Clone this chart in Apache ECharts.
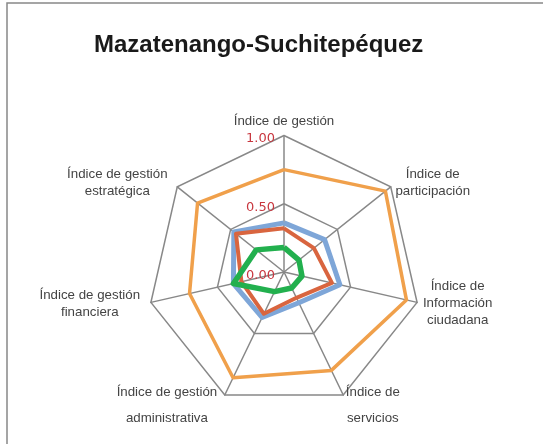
<!DOCTYPE html>
<html>
<head>
<meta charset="utf-8">
<script src="https://cdn.jsdelivr.net/npm/echarts@6/dist/echarts.min.js"></script>
<style>
html,body{margin:0;padding:0;background:#fff;}
#chart{width:543px;height:444px;}
</style>
</head>
<body>
<div id="chart"></div>
<script>
// Indicators, clockwise from the top ('\n\n' marks a wide line gap)
const indicatorNames = [
  'Índice de gestión',
  'Índice de\nparticipación',
  'Índice de\nInformación\nciudadana',
  'Índice de\n\nservicios',
  'Índice de gestión\n\nadministrativa',
  'Índice de gestión\nfinanciera',
  'Índice de gestión\nestratégica'
];
const axisTicks = [0, 0.5, 1];
const seriesOrange = [0.75, 0.95, 0.92, 0.80, 0.86, 0.71, 0.81];
const seriesBlue   = [0.36, 0.38, 0.42, 0.25, 0.37, 0.38, 0.47];
const seriesRed    = [0.32, 0.28, 0.36, 0.21, 0.34, 0.32, 0.45];
const seriesGreen  = [0.18, 0.14, 0.135, 0.13, 0.16, 0.38, 0.26];

// ECharts lays radar indicators counter-clockwise; reorder to get clockwise
const order = [0, 6, 5, 4, 3, 2, 1];
const reorder = arr => order.map(i => arr[i]);
const leftSide = new Set([4, 5, 6]);

const indicators = order.map((i, k) => {
  const o = { name: indicatorNames[i], min: axisTicks[0], max: axisTicks[axisTicks.length - 1] };
  if (k === 0) {
    o.axisLabel = {
      show: true, color: '#C8373F', fontSize: 13, fontFamily: 'DejaVu Sans',
      margin: 9, verticalAlign: 'top', lineHeight: 7, formatter: v => Number(v).toFixed(2)
    };
  }
  return o;
});

function nameFormatter(name) {
  const idx = indicatorNames.indexOf(name);
  const L = leftSide.has(idx) ? 'l' : 'c';
  if (name.indexOf('\n\n') >= 0) {
    const parts = name.split('\n\n');
    return '{' + L + 'g|' + parts[0] + '}\n{' + L + '|' + parts[1] + '}';
  }
  return name.split('\n').map(s => '{' + L + '|' + s + '}').join('\n');
}

const baseText = { color: '#444', fontSize: 13.3, fontFamily: 'Liberation Sans', align: 'center', lineHeight: 17 };

const chart = echarts.init(document.getElementById('chart'), null, { renderer: 'canvas' });
chart.setOption({
  animation: false,
  backgroundColor: '#fff',
  title: {
    text: 'Mazatenango-Suchitepéquez',
    left: 89, top: 28,
    textStyle: { fontFamily: 'Liberation Sans', fontWeight: 'bold', fontSize: 24, color: '#1a1a1a' }
  },
  graphic: [{
    type: 'rect', shape: { x: 7, y: 3, width: 560, height: 460 },
    style: { fill: 'none', stroke: '#888', lineWidth: 1.5 }, silent: true
  }],
  radar: {
    center: [284, 272],
    radius: 136.5,
    startAngle: 90,
    splitNumber: axisTicks.length - 1,
    shape: 'polygon',
    nameGap: 6,
    axisName: {
      color: '#444', fontSize: 13.3, fontFamily: 'Liberation Sans', lineHeight: 17,
      formatter: nameFormatter,
      rich: {
        c: Object.assign({}, baseText),
        cg: Object.assign({}, baseText, { lineHeight: 36 }),
        l: Object.assign({}, baseText, { padding: [0, 5, 0, 0] }),
        lg: Object.assign({}, baseText, { lineHeight: 36, padding: [0, 5, 0, 0] })
      }
    },
    axisLine: { lineStyle: { color: '#888', width: 1.5 } },
    splitLine: { lineStyle: { color: '#888', width: 1.5 } },
    splitArea: { show: false },
    axisTick: { show: false },
    axisLabel: { show: false },
    indicator: indicators
  },
  series: [{
    type: 'radar',
    symbol: 'none',
    data: [
      { value: reorder(seriesOrange), lineStyle: { color: '#F0A04B', width: 3.5 } },
      { value: reorder(seriesBlue),   lineStyle: { color: '#7EA6D8', width: 5 } },
      { value: reorder(seriesRed),    lineStyle: { color: '#D9653F', width: 4 } },
      { value: reorder(seriesGreen),  lineStyle: { color: '#22B04E', width: 5.5 } }
    ]
  }]
});
</script>
</body>
</html>
